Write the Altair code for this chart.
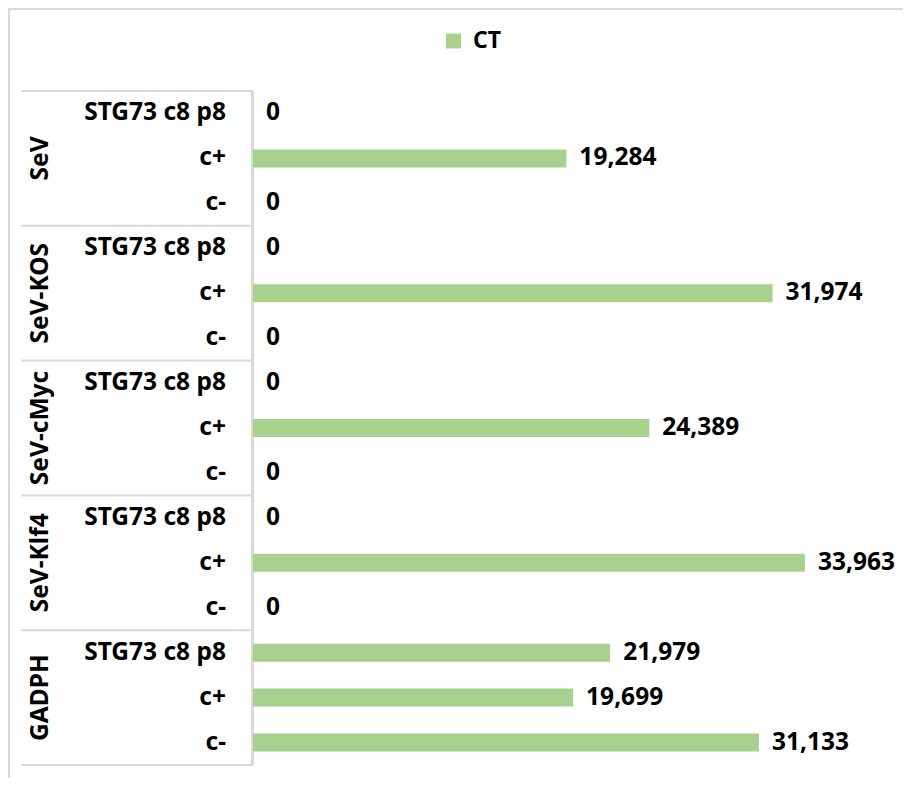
import altair as alt
import pandas as pd

groups = ["SeV", "SeV-KOS", "SeV-cMyc", "SeV-Klf4", "GADPH"]
samples = ["STG73 c8 p8", "c+", "c-"]
ct_values = [
    [0, 19284, 0],
    [0, 31974, 0],
    [0, 24389, 0],
    [0, 33963, 0],
    [21979, 19699, 31133],
]
series_name = "CT"

rows = []
i = 0
for g, vals in zip(groups, ct_values):
    for s, v in zip(samples, vals):
        rows.append({"group": g, "sample": s, "value": v, "base": 0,
                     "series": series_name,
                     "lo": i + 0.3, "hi": i + 0.7, "mid": i + 0.5})
        i += 1
df = pd.DataFrame(rows)
n_rows = len(df)

gdf = pd.DataFrame({"group": groups,
                    "mid": [k * 3 + 1.5 for k in range(len(groups))]})
bdf = pd.DataFrame({"b": [k * 3 for k in range(len(groups) + 1)],
                    "top": [0] * (len(groups) + 1),
                    "bot": [n_rows] * (len(groups) + 1)})
ldf = pd.DataFrame({"series": [series_name]})

FONT = "Noto Sans"
FS = 24.5
GREEN = "#A9D18E"
GRAY = "#D9D9D9"

xs = alt.Scale(domain=[0, 40000], nice=False, zero=True)
ys = alt.Scale(domain=[0, n_rows], reverse=True, nice=False, zero=False)


def X(f):
    return alt.X(f, scale=xs, axis=None)


def Y(f):
    return alt.Y(f, scale=ys, axis=None)


base = alt.Chart(df)

bars = base.mark_rect(color=GREEN).encode(
    x=X("base:Q"), x2="value:Q",
    y=Y("lo:Q"), y2="hi:Q",
)

vals = base.mark_text(align="left", baseline="middle", dx=13, font=FONT,
                      fontSize=FS, fontWeight="bold", color="#000").encode(
    x=X("value:Q"), y=Y("mid:Q"),
    text=alt.Text("value:Q", format=",d"),
)

row_labels = base.mark_text(align="right", baseline="middle", font=FONT,
                            fontSize=FS, fontWeight="bold", color="#000").encode(
    x=alt.value(-27), y=Y("mid:Q"), text="sample:N",
)

group_labels = alt.Chart(gdf).mark_text(align="center", baseline="middle",
                                        angle=270, font=FONT, fontSize=FS,
                                        fontWeight="bold", color="#000").encode(
    x=alt.value(-212), y=Y("mid:Q"), text="group:N",
)

seps = alt.Chart(bdf).mark_rule(color=GRAY, strokeWidth=2).encode(
    x=alt.value(-232), x2=alt.value(0), y=Y("b:Q"),
)

axis_line = alt.Chart(bdf).mark_rule(color=GRAY, strokeWidth=2).encode(
    x=alt.value(-0.5), y=Y("top:Q"), y2="bot:Q",
)

frame_left = alt.Chart(ldf).mark_rule(color=GRAY, strokeWidth=2).encode(
    x=alt.value(-244), y=alt.value(-83), y2=alt.value(700),
)
frame_top = alt.Chart(ldf).mark_rule(color=GRAY, strokeWidth=2).encode(
    x=alt.value(-245), x2=alt.value(670), y=alt.value(-82),
)

leg_sym = alt.Chart(ldf).mark_square(color=GREEN, size=225, opacity=1).encode(
    x=alt.value(200.5), y=alt.value(-50),
)
leg_txt = alt.Chart(ldf).mark_text(align="left", baseline="middle", font=FONT,
                                   fontSize=23, fontWeight="bold",
                                   color="#000").encode(
    x=alt.value(220), y=alt.value(-50), text="series:N",
)

chart = alt.layer(frame_left, frame_top, seps, axis_line, bars, vals,
                  row_labels, group_labels, leg_sym, leg_txt).properties(
    width=650, height=674,
    padding={"left": 245, "top": 83, "right": 0, "bottom": 13},
    autosize=alt.AutoSizeParams(type="none"),
).configure_view(strokeWidth=0)

chart.save("out.html", embed_options={"renderer": "svg", "actions": False})
